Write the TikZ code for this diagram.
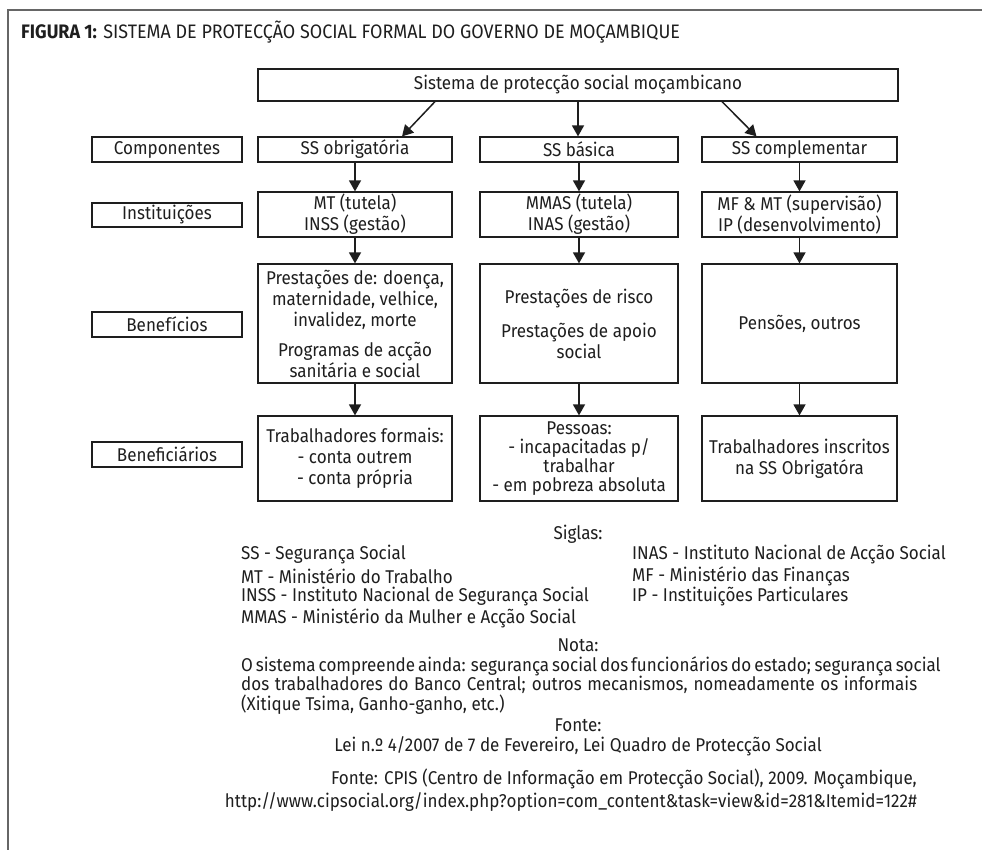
\documentclass[tikz,border=0pt]{standalone}
\usepackage{fontspec}
\setmainfont{Fira Sans}[FakeStretch=0.92]
\usetikzlibrary{arrows.meta,calc}
\definecolor{ink}{HTML}{1E1E1E}
\definecolor{frame}{HTML}{666666}
\begin{document}
\begin{tikzpicture}[x=1pt,y=-1pt,
  every node/.style={font=\fontsize{18.5}{21}\selectfont, text=ink, inner sep=0pt},
  box/.style={draw=ink, line width=1.2pt, align=center},
  lab/.style={box, minimum width=150pt, minimum height=25pt},
  colbox/.style={box, minimum width=194pt},
  arr/.style={draw=ink, line width=1.5pt, -{Triangle[width=12pt,length=11pt]}},
  txt/.style={anchor=west, align=left}
]
\useasboundingbox (0,0) rectangle (982,850);
\draw[frame, line width=1.2pt] (8,850) -- (8,10) -- (982,10);

\node[anchor=west, font=\fontsize{19.5}{22}\selectfont] (title) at (21,32)
  {\textbf{FIGURA 1:} SISTEMA DE PROTECÇÃO SOCIAL FORMAL DO GOVERNO DE MOÇAMBIQUE};

\node[box, minimum width=640pt, minimum height=32pt] (top) at (578,85)
  {Sistema de protecção social moçambicano};

% labels
\node[lab] (l1) at (167,149.5) {Componentes};
\node[lab, minimum height=24pt] (l2) at (167,215) {Instituições};
\node[lab] (l3) at (167,324.5) {Benefícios};
\node[lab] (l4) at (167,454.5) {Beneficiários};

% column 1
\node[colbox, minimum height=25pt] (a1) at (355,149.5) {SS obrigatória};
\node[colbox, minimum height=45pt] (a2) at (355,214.5) {MT (tutela)\\INSS (gestão)};
\node[colbox, minimum height=119pt] (a3) at (355,323.5)
  {Prestações de: doença,\\maternidade, velhice,\\invalidez, morte\\[9pt]Programas de acção\\sanitária e social};
\node[colbox, minimum height=85pt] (a4) at (355,458.5)
  {Trabalhadores formais:\\- conta outrem\\- conta própria};

% column 2
\node[colbox, minimum width=198pt, minimum height=25pt] (b1) at (579,149.5) {SS básica};
\node[colbox, minimum width=198pt, minimum height=45pt] (b2) at (579,214.5) {MMAS (tutela)\\INAS (gestão)};
\node[colbox, minimum width=198pt, minimum height=119pt] (b3) at (579,323.5)
  {Prestações de risco\\[13pt]Prestações de apoio\\social};
\node[colbox, minimum width=198pt, minimum height=85pt, font=\fontsize{18.5}{19}\selectfont] (b4) at (579,458.5)
  {Pessoas:\\- incapacitadas p/\\trabalhar\\- em pobreza absoluta};

% column 3
\node[colbox, minimum width=195pt, minimum height=25pt] (c1) at (799.5,149.5) {SS complementar};
\node[colbox, minimum width=195pt, minimum height=45pt] (c2) at (799.5,214.5) {MF \& MT (supervisão)\\IP (desenvolvimento)};
\node[colbox, minimum width=195pt, minimum height=119pt] (c3) at (799.5,323.5) {Pensões, outros};
\node[colbox, minimum width=195pt, minimum height=85pt] (c4) at (799.5,458.5)
  {Trabalhadores inscritos\\na SS Obrigatóra};

% arrows
\draw[arr] ($(top.south)+(-143,0)$) -- ($(a1.north)+(47,0)$);
\draw[arr] (top.south) -- (top.south |- b1.north);
\draw[arr] ($(top.south)+(144,0)$) -- ($(c1.north)+(-43,0)$);
\foreach \c in {a,b,c}{
  \draw[arr] (\c1.south) -- (\c2.north);
  \draw[arr] (\c2.south) -- (\c3.north);
  \draw[arr] (\c3.south) -- (\c4.north);
}

% siglas
\node (sig) at (578,534) {Siglas:};
\node[txt] (s1) at (241,555) {SS - Segurança Social};
\node[txt] (s2) at (241,576) {MT - Ministério do Trabalho};
\node[txt] (s3) at (241,597) {INSS - Instituto Nacional de Segurança Social};
\node[txt] (s4) at (241,618) {MMAS - Ministério da Mulher e Acção Social};
\node[txt] (s5) at (632,555) {INAS - Instituto Nacional de Acção Social};
\node[txt] (s6) at (632,576) {MF - Ministério das Finanças};
\node[txt] (s7) at (632,597) {IP - Instituições Particulares};

% nota
\node (nota) at (578,645) {Nota:};
\node[anchor=north west, font=\fontsize{18.5}{17}\selectfont] (npar) at (241,656)
  {\parbox[t]{676pt}{%
   \makebox[676pt][s]{O sistema compreende ainda: segurança social dos funcionários do estado; segurança social}\\
   \makebox[676pt][s]{dos trabalhadores do Banco Central; outros mecanismos, nomeadamente os informais}\\
   \makebox[676pt][l]{(Xitique Tsima, Ganho-ganho, etc.)}}};

% fontes
\node (f1) at (578,725) {Fonte:};
\node (f2) at (578,746) {Lei n.º 4/2007 de 7 de Fevereiro, Lei Quadro de Protecção Social};
\node[anchor=east, align=right, font=\fontsize{18.5}{23}\selectfont] (f3) at (917,790)
  {Fonte: CPIS (Centro de Informação em Protecção Social), 2009. Moçambique,\\
   http://www.cipsocial.org/index.php?option=com\_content\&task=view\&id=281\&Itemid=122\#};
\end{tikzpicture}
\end{document}
